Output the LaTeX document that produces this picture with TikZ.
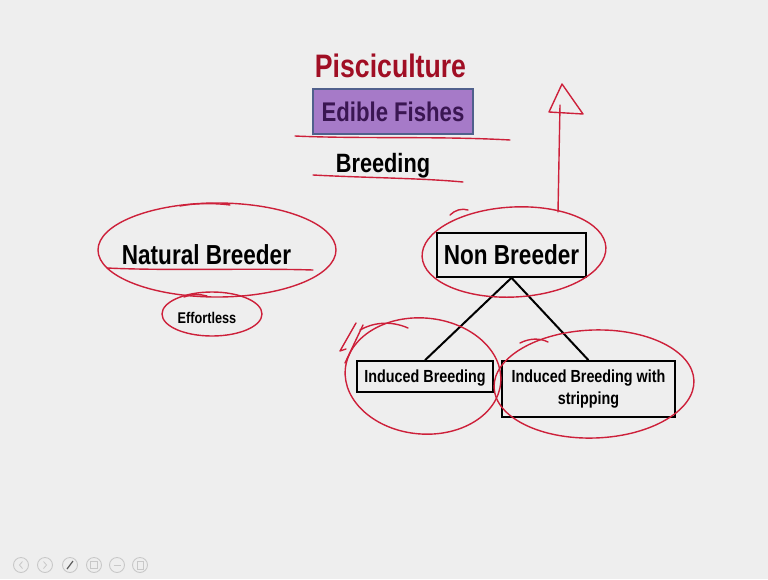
\documentclass[tikz,border=0pt]{standalone}
\usepackage{fontspec}
\newfontfamily\nf[FakeStretch=0.82]{Liberation Sans}
\definecolor{bgc}{RGB}{238,238,238}
\definecolor{ink}{RGB}{205,32,58}
\definecolor{titlered}{RGB}{160,14,36}
\definecolor{purplefill}{RGB}{166,122,200}
\definecolor{purpleedge}{RGB}{80,96,140}
\definecolor{purpletext}{RGB}{58,22,82}
\definecolor{navgray}{RGB}{200,200,200}
\tikzset{
  redink/.style={draw=ink, line width=1.4pt, line cap=round, line join=round},
  boxnode/.style={draw=black, line width=1.6pt, inner sep=0pt},
  conn/.style={draw=black, line width=2pt},
  navbtn/.style={draw=navgray, line width=0.9pt},
}
\begin{document}
\begin{tikzpicture}[x=1pt,y=-1pt]
\useasboundingbox (0,0) rectangle (768,579);
\fill[bgc] (0,0) rectangle (768,579);

% titles
\node[anchor=base, inner sep=0pt, text=titlered, font=\nf\bfseries\fontsize{32.5}{38}\selectfont] (pisc) at (390.5,77) {Pisciculture};
\node[draw=purpleedge, line width=1.2pt, fill=purplefill, text=purpletext, minimum width=160pt, minimum height=45pt, inner sep=0pt, font=\nf\bfseries\fontsize{27}{32}\selectfont] (edible) at (393,111.5) {Edible Fishes};
\node[anchor=base, inner sep=0pt, font=\nf\bfseries\fontsize{26.5}{31}\selectfont] (breeding) at (383,172) {Breeding};

% underlines
\draw[redink] (295,136) .. controls (360,139) and (440,136) .. (510,140);
\draw[redink] (313,175) .. controls (370,178) and (420,178) .. (463,182);

% natural breeder
\node[anchor=base, inner sep=0pt, font=\nf\bfseries\fontsize{27.5}{33}\selectfont] (nat) at (206.5,264) {Natural Breeder};
\node[anchor=base, inner sep=0pt, font=\nf\bfseries\fontsize{15.5}{19}\selectfont] (eff) at (207,323) {Effortless};
\draw[redink] (107,268) .. controls (170,271) and (250,268) .. (313,270);
\draw[redink] (217,250) ellipse [x radius=119, y radius=47];
\draw[redink] (180,206) .. controls (195,203) and (215,203) .. (230,205);
\draw[redink] (212,314) ellipse [x radius=50, y radius=22];
\draw[redink] (184,297) .. controls (192,294) and (200,294) .. (207,296);

% non breeder tree
\node[boxnode, minimum width=149pt, minimum height=44pt, font=\nf\bfseries\fontsize{27.5}{33}\selectfont] (nb) at (511.5,255) {Non Breeder};
\node[boxnode, minimum width=136pt, minimum height=31pt, text depth=0pt, font=\nf\bfseries\fontsize{17.5}{22}\selectfont] (ib) at (425,376.5) {Induced Breeding};
\node[boxnode, minimum width=173pt, minimum height=56pt, align=center, font=\nf\bfseries\fontsize{17.5}{22}\selectfont] (ibs) at (588.5,389) {Induced Breeding with\\stripping};
\draw[conn] (nb.south) -- (ib.north);
\draw[conn] (nb.south) -- (ibs.north);

% red ellipses on the right
\draw[redink, rotate around={3:(514,252)}] (514,252) ellipse [x radius=92, y radius=45];
\draw[redink] (450,215) .. controls (455,210) and (462,208) .. (468,210);
\draw[redink, rotate around={-5:(423,376)}] (423,376) ellipse [x radius=78, y radius=58];
\draw[redink] (360,330) .. controls (372,323) and (390,320) .. (408,328);
\draw[redink, rotate around={2:(594,384)}] (594,384) ellipse [x radius=100, y radius=54];
\draw[redink] (520,343) .. controls (530,338) and (540,338) .. (548,342);
% tick marks
\draw[redink] (356,323) -- (340,351) -- (346,349);
\draw[redink] (363,325) -- (345,363);

% arrow upward
\coordinate (arrowfoot) at (558,212);
\coordinate (arrowtip) at (560,105);
\draw[redink] (arrowfoot) -- (arrowtip);
\draw[redink] (562,84) -- (549,112) -- (583,114) -- cycle;

% viewer buttons
\foreach \x/\n in {21/b1,45/b2,70/b3,94/b4,117/b5,140/b6} {
  \node[navbtn, circle, minimum size=15pt, inner sep=0pt] (\n) at (\x,565) {};
}
\draw[navgray, line width=0.8pt] (22.5,561.5) -- (19.5,565) -- (22.5,568.5);
\draw[navgray, line width=0.8pt] (43.5,561.5) -- (46.5,565) -- (43.5,568.5);
\draw[gray!70!black, line width=1.2pt] (67,569) -- (73,561);
\draw[navgray, line width=0.8pt] (90.5,561.5) rectangle (97.5,568.5);
\draw[navgray, line width=0.8pt] (113.5,565) -- (120.5,565);
\draw[navgray, line width=0.8pt] (137,561) rectangle (143,569);
\end{tikzpicture}
\end{document}
